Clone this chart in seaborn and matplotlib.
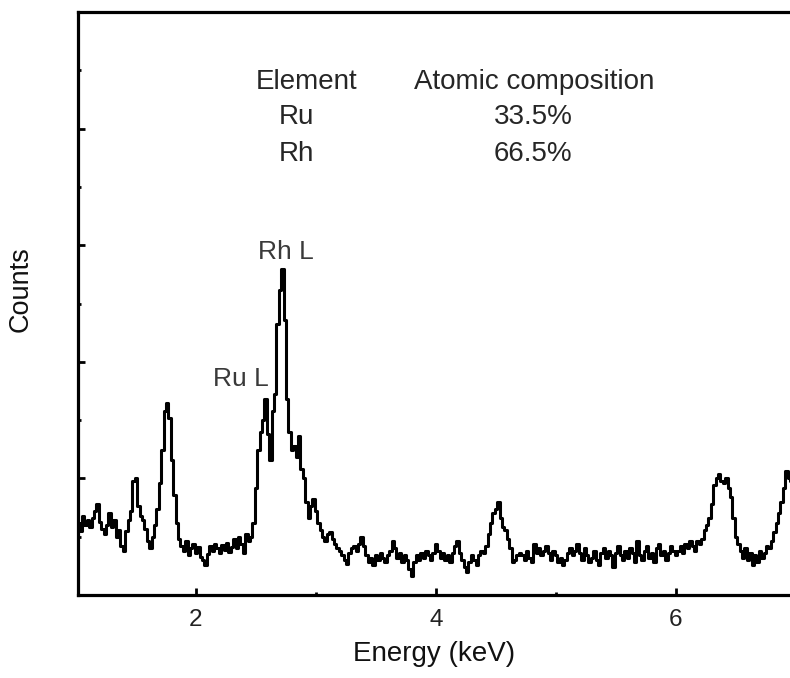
import numpy as np
import pandas as pd
import matplotlib
matplotlib.use('Agg')
import matplotlib.pyplot as plt
from matplotlib.ticker import MultipleLocator
import seaborn as sns

# EDS spectrum, channels every 0.02 keV starting at 1.02 keV (one row = 0.2 keV)
e_start = 1.02
e_step = 0.02
counts = [
    62, 55, 68, 60, 64, 58, 66, 72, 78, 63,
    57, 52, 60, 70, 58, 64, 50, 56, 42, 38,
    55, 64, 72, 98, 100, 76, 68, 64, 57, 46,
    40, 50, 60, 74, 96, 124, 158, 165, 152, 116,
    86, 62, 48, 42, 38, 46, 34, 40, 44, 36,
    41, 33, 30, 26, 35, 42, 38, 44, 40, 36,
    43, 39, 45, 37, 41, 48, 40, 50, 44, 36,
    52, 46, 50, 62, 92, 124, 140, 150, 168, 138,
    116, 158, 172, 232, 262, 280, 236, 168, 140, 124,
    128, 118, 136, 108, 100, 80, 66, 76, 82, 72,
    62, 56, 50, 46, 52, 54, 48, 44, 40, 38,
    34, 30, 27, 36, 40, 42, 38, 44, 50, 42,
    34, 28, 32, 26, 34, 30, 36, 32, 28, 34,
    38, 46, 40, 32, 36, 28, 34, 30, 22, 16,
    28, 34, 30, 36, 32, 38, 34, 30, 36, 44,
    38, 32, 36, 30, 34, 28, 36, 42, 46, 36,
    30, 24, 20, 28, 34, 30, 26, 34, 38, 36,
    42, 52, 62, 70, 74, 80, 66, 58, 56, 48,
    40, 28, 30, 34, 36, 34, 30, 38, 32, 28,
    44, 36, 40, 34, 38, 42, 36, 30, 38, 34,
    28, 32, 26, 30, 36, 40, 34, 38, 44, 36,
    30, 40, 34, 28, 32, 38, 30, 26, 36, 40,
    32, 38, 34, 24, 36, 42, 34, 30, 38, 32,
    40, 36, 28, 46, 34, 30, 38, 42, 32, 36,
    28, 40, 44, 34, 38, 30, 36, 42, 38, 34,
    38, 42, 36, 44, 40, 46, 42, 38, 46, 44,
    48, 56, 60, 66, 78, 94, 100, 104, 98, 96,
    100, 92, 84, 66, 50, 44, 38, 32, 40, 30,
    36, 26, 34, 28, 38, 32, 36, 42, 40, 46,
    54, 62, 70, 80, 92, 106, 100, 98,
]

elements = ['Ru', 'Rh']
composition = ['33.5%', '66.5%']
peak_labels = ['Ru L', 'Rh L']
peak_pos = [(2.37, 179), (2.745, 288)]

energy = e_start + e_step * np.arange(len(counts))
df = pd.DataFrame({'energy': energy, 'counts': counts})

sns.set_style('ticks')
plt.rcParams['font.family'] = ['Liberation Sans', 'DejaVu Sans']

fig = plt.figure(figsize=(7.9, 6.78), dpi=100)
ax = fig.add_axes([78 / 790, 83 / 678, 1 - 78 / 790, (595 - 12) / 678])

sns.lineplot(data=df, x='energy', y='counts', ax=ax, color='black',
             linewidth=2.2, drawstyle='steps-mid')

ax.set_xlim(2 - 118 / 120, 2 + 594 / 120)
ax.set_ylim(0, 500)
ax.xaxis.set_major_locator(MultipleLocator(2))
ax.xaxis.set_minor_locator(MultipleLocator(1))
ax.yaxis.set_major_locator(MultipleLocator(100))
ax.yaxis.set_minor_locator(MultipleLocator(50))
ax.tick_params(which='both', direction='in', width=2, color='black')
ax.tick_params(which='major', length=5)
ax.tick_params(which='minor', length=2.5)
ax.tick_params(axis='x', labelsize=17.5, pad=10, labelcolor='#222222')
ax.tick_params(axis='y', labelleft=False)
for s in ['left', 'top', 'bottom']:
    ax.spines[s].set_linewidth(2.3)
    ax.spines[s].set_color('black')
ax.spines['right'].set_visible(False)

ax.set_xlabel('Energy (keV)', fontsize=20, labelpad=7, color='#111111')
ax.set_ylabel('Counts', fontsize=19.5, color='#111111')
ax.yaxis.set_label_coords(-0.062, 0.524)

# composition table
ax.text(2.92, 434, 'Element', fontsize=20, ha='center', va='baseline')
ax.text(4.82, 434, 'Atomic composition', fontsize=20, ha='center', va='baseline')
for i, (el, comp) in enumerate(zip(elements, composition)):
    yb = 404 - 32 * i
    ax.text(2.84, yb, el, fontsize=20, ha='center', va='baseline')
    ax.text(4.81, yb, comp, fontsize=20, ha='center', va='baseline')

for lab, (px, py) in zip(peak_labels, peak_pos):
    ax.text(px, py, lab, fontsize=19, ha='center', va='baseline', color='#3a3a3a')

fig.savefig('out.png', dpi=100)
